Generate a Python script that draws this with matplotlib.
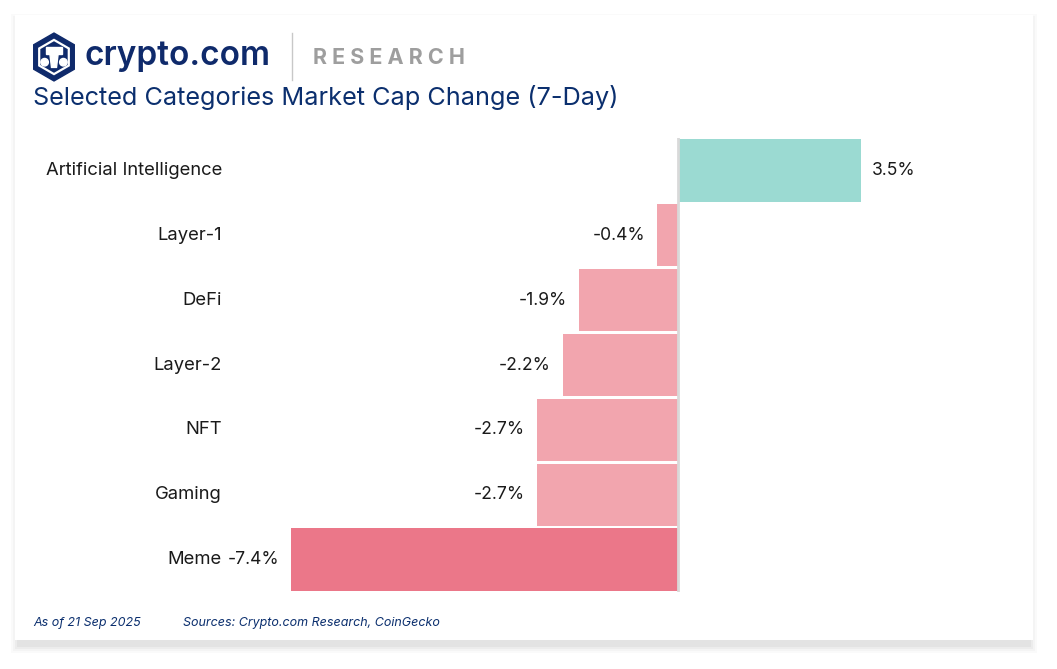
import matplotlib.pyplot as plt
import matplotlib.patches as mpatches
import numpy as np

# data
categories = ['Artificial Intelligence', 'Layer-1', 'DeFi', 'Layer-2', 'NFT', 'Gaming', 'Meme']
changes = [3.5, -0.4, -1.9, -2.2, -2.7, -2.7, -7.4]
value_labels = ['3.5%', '-0.4%', '-1.9%', '-2.2%', '-2.7%', '-2.7%', '-7.4%']

navy = '#0B2F6E'
teal = '#9BDAD2'
pink = '#F2A5AE'
dark_pink = '#EB7789'

plt.rcParams['font.family'] = ['Inter', 'DejaVu Sans']

W, H = 1057, 669
fig = plt.figure(figsize=(W / 100, H / 100), dpi=100)
fig.patch.set_facecolor('white')

# card with a soft shadow (mostly below)
for i, a in enumerate([0.02, 0.025, 0.03, 0.035]):
    g = 8 - 2 * i
    fig.patches.append(mpatches.Rectangle(((15 - g + 4) / W, 1 - (640 + g + 5) / H),
                                          (1018 + 2 * g - 8) / W, (625 + 2 * g - 2) / H,
                                          transform=fig.transFigure, facecolor='black',
                                          alpha=a, edgecolor='none', zorder=0))
fig.patches.append(mpatches.Rectangle((15 / W, 1 - 640 / H), 1018 / W, 625 / H,
                                      transform=fig.transFigure, facecolor='white',
                                      edgecolor='none', zorder=1))

# bars
ax = fig.add_axes([291 / W, 1 - 592 / H, 719 / W, 454 / H])
ax.set_zorder(2)
ax.patch.set_alpha(0)
y = np.arange(len(categories))
colors = [teal if v > 0 else pink for v in changes]
colors[changes.index(min(changes))] = dark_pink
ax.barh(y, changes, height=0.96, color=colors, zorder=2)
ax.axvline(0, color='#D9D9D9', lw=2, zorder=3)
ax.set_xlim(-7.4, 6.35)
ax.set_ylim(len(categories) - 0.5, -0.5)
ax.axis('off')

for yi, v, lab, cat in zip(y, changes, value_labels, categories):
    if v > 0:
        ax.annotate(lab, (v, yi), xytext=(11, 0), textcoords='offset pixels',
                    ha='left', va='center', fontsize=12.6, color='#1a1a1a')
    else:
        ax.annotate(lab, (v, yi), xytext=(-12, 0), textcoords='offset pixels',
                    ha='right', va='center', fontsize=12.6, color='#1a1a1a')
    ax.annotate(cat, (-7.4, yi), xytext=(222 - 291, 0), textcoords='offset pixels',
                ha='right', va='center', fontsize=13.3, color='#1a1a1a')

# header
logo = fig.add_axes([33 / W, 1 - 82 / H, 42 / W, 50 / H])
logo.set_zorder(3)
logo.set_xlim(-1, 1)
logo.set_ylim(-1.2, 1.2)
logo.set_aspect('equal')
logo.axis('off')
logo.add_patch(mpatches.RegularPolygon((0, 0), 6, radius=1.15, orientation=0, color='#0F2A6B'))
logo.add_patch(mpatches.RegularPolygon((0, 0), 6, radius=0.82, orientation=0, fill=False,
                                       edgecolor='white', lw=1.6))
logo.add_patch(mpatches.Rectangle((-0.38, 0.15), 0.76, 0.35, color='white'))
logo.add_patch(mpatches.Polygon([(-0.2, 0.15), (0.2, 0.15), (0.12, -0.5), (-0.12, -0.5)],
                                color='white'))
logo.add_patch(mpatches.Circle((-0.45, -0.25), 0.18, color='white'))
logo.add_patch(mpatches.Circle((0.45, -0.25), 0.18, color='white'))

fig.text(85 / W, 1 - 56 / H, 'crypto.com', fontsize=24, fontweight='semibold',
         color='#0F2A6B', va='center', ha='left', zorder=4)
fig.add_artist(plt.Line2D([292 / W, 292 / W], [1 - 33 / H, 1 - 80 / H],
                          color='#C8C8C8', lw=1, transform=fig.transFigure))
fig.text(313 / W, 1 - 58 / H, 'R E S E A R C H', fontsize=15.5, fontweight='bold',
         color='#9E9E9E', va='center', ha='left', zorder=4)
fig.text(33 / W, 1 - 98 / H, 'Selected Categories Market Cap Change (7-Day)',
         fontsize=18.2, color=navy, va='center', ha='left', zorder=4)

# footer
fig.text(33 / W, 1 - 623 / H, 'As of 21 Sep 2025', fontsize=9, style='italic',
         color=navy, va='center', ha='left', zorder=4)
fig.text(183 / W, 1 - 623 / H, 'Sources: Crypto.com Research, CoinGecko', fontsize=9,
         style='italic', color=navy, va='center', ha='left', zorder=4)

fig.savefig('out.png', dpi=100)
